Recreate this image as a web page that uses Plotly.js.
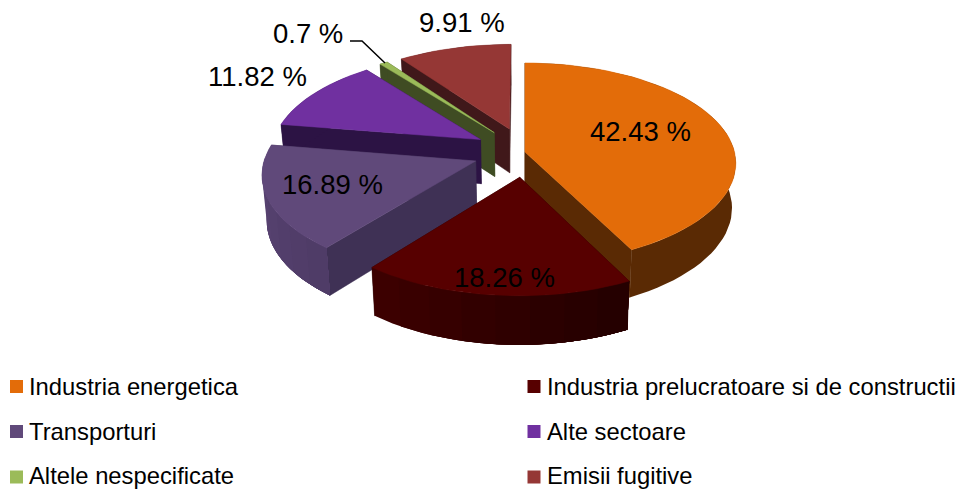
<!DOCTYPE html>
<html><head><meta charset="utf-8">
<script src="https://cdn.plot.ly/plotly-3.0.1.min.js"></script>
<style>html,body{margin:0;padding:0;background:#fff}</style></head>
<body><div id="chart" style="width:960px;height:489px"></div>
<script>
// ---- data ----
const categories = ["Industria energetica","Industria prelucratoare si de constructii","Transporturi","Alte sectoare","Altele nespecificate","Emisii fugitive"];
const shares = [42.43,18.26,16.89,11.82,0.7,9.91];
const valueLabels = ["42.43 %","18.26 %","16.89 %","11.82 %","0.7 %","9.91 %"];
// ---- style ----
const topColors = ["#E36C09","#570000","#60497A","#7030A0","#9BBB59","#953735"];
const radialWall = ["#5A2A04","#2a0000","#3F3155","#2C1344","#3F4C23","#40181A"];
const arcFrom = ["#5A2A04","#3E0000","#5C4676","#2C1344","#3F4C23","#40181A"];
const arcTo = ["#5A2A04","#230000","#4E3B66","#2C1344","#3F4C23","#40181A"];
const explode = [0,0.25,0.25,0.25,0.25,0.25];
const drawOrder = [5,4,3,0,2,1];
const labelX = [640,504,332,257,308,462];
const labelY = [131,277,184,76,33,22];
// ---- projection of the tilted pie ----
const cx=525, cy=152, A=209.5, B=99, P=0.112, D=44.5, K=0.982;
function proj(U,V,low){
  const s=1/(1-P*V), k=low?K:1;
  return [cx+A*U*s*k, cy+B*V*s*k+(low?D*s:0)];
}
function hex(c){return [1,3,5].map(i=>parseInt(c.slice(i,i+2),16));}
function mix(a,b,t){const x=hex(a),y=hex(b);return "rgb("+x.map((v,i)=>Math.round(v+(y[i]-v)*t)).join(",")+")";}
function poly(pts,color,w){
  return {type:"scatter",mode:"lines",x:pts.map(p=>p[0]),y:pts.map(p=>p[1]),fill:"toself",fillcolor:color,
    line:{color:color,width:w},hoverinfo:"skip",showlegend:false};
}
const total=shares.reduce((a,b)=>a+b,0);
let acc=0;
const spans=shares.map(v=>{const a=acc/total*2*Math.PI;acc+=v;return [a,acc/total*2*Math.PI];});
const traces=[];
drawOrder.forEach(i=>{
  const [a,b]=spans[i], m=(a+b)/2, e=explode[i];
  const U0=e*Math.sin(m), V0=-e*Math.cos(m);
  const pt=(t,low)=>proj(U0+Math.sin(t),V0-Math.cos(t),low);
  const tip=low=>proj(U0,V0,low);
  // radial walls, farther one first
  const walls=[a,b].map(t=>({t,v:V0-Math.cos(t)/2})).sort((p,q)=>p.v-q.v);
  walls.forEach(w=>traces.push(poly([tip(false),pt(w.t,false),pt(w.t,true),tip(true),tip(false)],radialWall[i],0.5)));
  // outer rim: one polygon when flat, overlapping strips when shaded
  const n=Math.max(2,Math.ceil((b-a)/0.05));
  const bands=arcFrom[i]===arcTo[i]?1:8;
  for(let j=bands-1;j>=0;j--){
    const t1=a+(b-a)*(j+1)/bands, t0=a;
    const f=[],g=[];
    for(let q=0;q<=n;q++){const t=t0+(t1-t0)*q/n;f.push(pt(t,false));g.unshift(pt(t,true));}
    traces.push(poly(f.concat(g,[f[0]]),mix(arcFrom[i],arcTo[i],1-(j+0.5)/bands),0));
  }
  // top face
  const face=[tip(false)];
  for(let j=0;j<=n;j++) face.push(pt(a+(b-a)*j/n,false));
  face.push(tip(false));
  traces.push(poly(face,topColors[i],0.5));
});
// leader line of the small slice
traces.push({type:"scatter",mode:"lines",x:[350,362,385],y:[41,41,63],line:{color:"#000",width:1.5},hoverinfo:"skip",showlegend:false});
// legend
const legendX=[16.5,534,16.5,534,16.5,534], legendY=[386.5,386.5,431.5,431.5,477,477], legendTextLift=[0,0,0,0,2,2];
traces.push({type:"scatter",mode:"markers",x:legendX,y:legendY,marker:{symbol:"square",size:13,color:topColors,line:{width:0}},hoverinfo:"skip",showlegend:false});
const font="Liberation Sans, Arial, sans-serif";
const annotations=valueLabels.map((t,i)=>({x:labelX[i],y:labelY[i],text:t,showarrow:false,xanchor:"center",yanchor:"middle",font:{family:font,size:27.5,color:"#000"}}))
 .concat(categories.map((t,i)=>({x:legendX[i]+12.5,xshift:-2,yshift:legendTextLift[i],y:legendY[i],text:t,showarrow:false,xanchor:"left",yanchor:"middle",font:{family:font,size:23.8,color:"#000"}})));
Plotly.newPlot("chart",traces,{
  width:960,height:489,margin:{l:0,r:0,t:0,b:0},paper_bgcolor:"#fff",plot_bgcolor:"#fff",showlegend:false,
  xaxis:{range:[0,960],visible:false,fixedrange:true},
  yaxis:{range:[489,0],visible:false,fixedrange:true},
  annotations
},{displayModeBar:false,staticPlot:true});
</script></body></html>
